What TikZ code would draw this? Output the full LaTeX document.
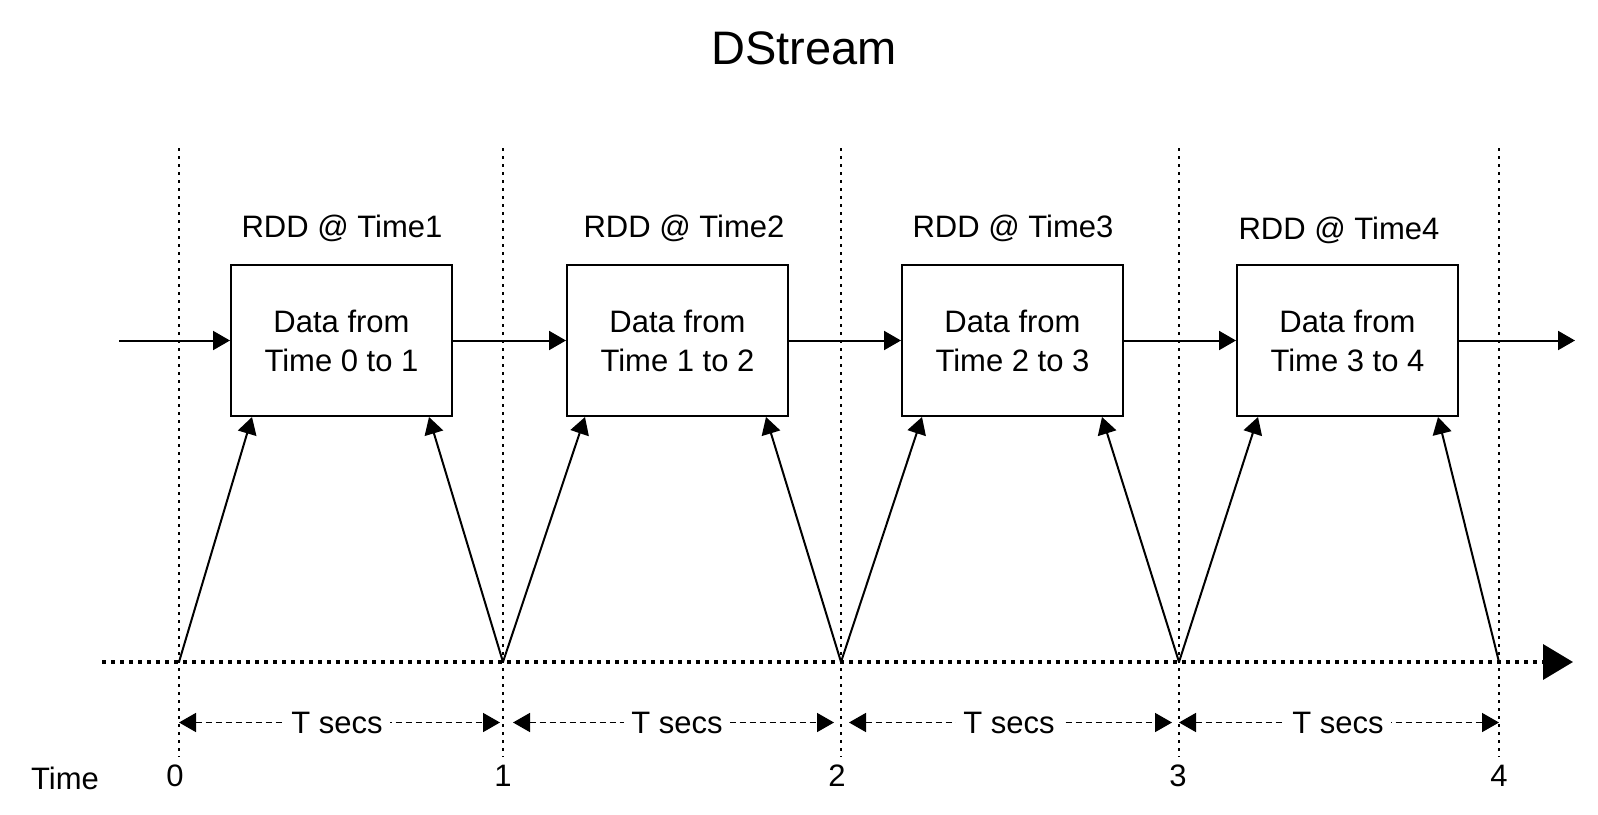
\documentclass[tikz,border=0pt]{standalone}
\usepackage{fontspec}
\setmainfont{Liberation Sans}
\usetikzlibrary{arrows.meta}
\begin{document}
\begin{tikzpicture}[x=1pt,y=-1pt,
  box/.style={draw,line width=2pt,minimum width=221pt,minimum height=151pt,inner sep=0pt,align=center,font=\fontsize{31}{39}\selectfont},
  lbl/.style={font=\fontsize{31}{37}\selectfont,inner sep=0pt},
  conn/.style={line width=2pt,-{Triangle[length=17pt,width=19pt]}},
  vline/.style={line width=1.8pt,dash pattern=on 3pt off 5pt},
  axis/.style={line width=3.5pt,dash pattern=on 4pt off 5pt,-{Triangle[length=30pt,width=35pt]}},
  span/.style={line width=1.6pt,dash pattern=on 6pt off 4pt,{Triangle[length=17pt,width=19pt]}-{Triangle[length=17pt,width=19pt]}},
  ]
\useasboundingbox (0,0) rectangle (1598,814);
% title
\node[font=\fontsize{47}{56}\selectfont,inner sep=0pt] (title) at (804,48) {DStream};
% vertical time lines
\foreach \i/\x in {0/179,1/503,2/841,3/1179,4/1499}{
  \coordinate (top\i) at (\x,148);
  \coordinate (bot\i) at (\x,757);
  \coordinate (p\i) at (\x,662);
  \draw[vline] (top\i) -- (bot\i);
}
% axis
\coordinate (axL) at (102,662);
\coordinate (axR) at (1573,662);
\draw[axis] (axL) -- (axR);
% boxes
\node[box] (b1) at (341.5,340.5) {Data from\\Time 0 to 1};
\node[box] (b2) at (677.5,340.5) {Data from\\Time 1 to 2};
\node[box] (b3) at (1012.5,340.5) {Data from\\Time 2 to 3};
\node[box] (b4) at (1347.5,340.5) {Data from\\Time 3 to 4};
% labels
\node[lbl] (l1) at (342,228) {RDD @ Time1};
\node[lbl] (l2) at (684,228) {RDD @ Time2};
\node[lbl] (l3) at (1013,228) {RDD @ Time3};
\node[lbl] (l4) at (1339,230) {RDD @ Time4};
% horizontal flow
\coordinate (in) at (119,340.5);
\coordinate (out) at (1575,340.5);
\draw[conn] (in) -- (b1.west);
\draw[conn] (b1.east) -- (b2.west);
\draw[conn] (b2.east) -- (b3.west);
\draw[conn] (b3.east) -- (b4.west);
\draw[conn] (b4.east) -- (out);
% diagonal arrows
\draw[conn] (p0) -- ([xshift=22pt]b1.south west);
\draw[conn] (p1) -- ([xshift=-24pt]b1.south east);
\draw[conn] (p1) -- ([xshift=19pt]b2.south west);
\draw[conn] (p2) -- ([xshift=-23pt]b2.south east);
\draw[conn] (p2) -- ([xshift=21pt]b3.south west);
\draw[conn] (p3) -- ([xshift=-22pt]b3.south east);
\draw[conn] (p3) -- ([xshift=22pt]b4.south west);
\draw[conn] (p4) -- ([xshift=-21pt]b4.south east);
% T secs spans
\foreach \i/\a/\b/\c in {1/179/500/337,2/513/834/677,3/849/1172/1009,4/1179/1499/1338}{
  \coordinate (sa\i) at (\a,722.5);
  \coordinate (sb\i) at (\b,722.5);
  \draw[span] (sa\i) -- (sb\i);
  \node[lbl,fill=white,inner xsep=7pt,inner ysep=2pt] (ts\i) at (\c,722.5) {T secs};
}
% bottom labels
\node[lbl] (time) at (65,778) {Time};
\node[lbl] (n0) at (175,776) {0};
\node[lbl] (n1) at (503,776) {1};
\node[lbl] (n2) at (837,776) {2};
\node[lbl] (n3) at (1178,776) {3};
\node[lbl] (n4) at (1499,776) {4};
\end{tikzpicture}
\end{document}
